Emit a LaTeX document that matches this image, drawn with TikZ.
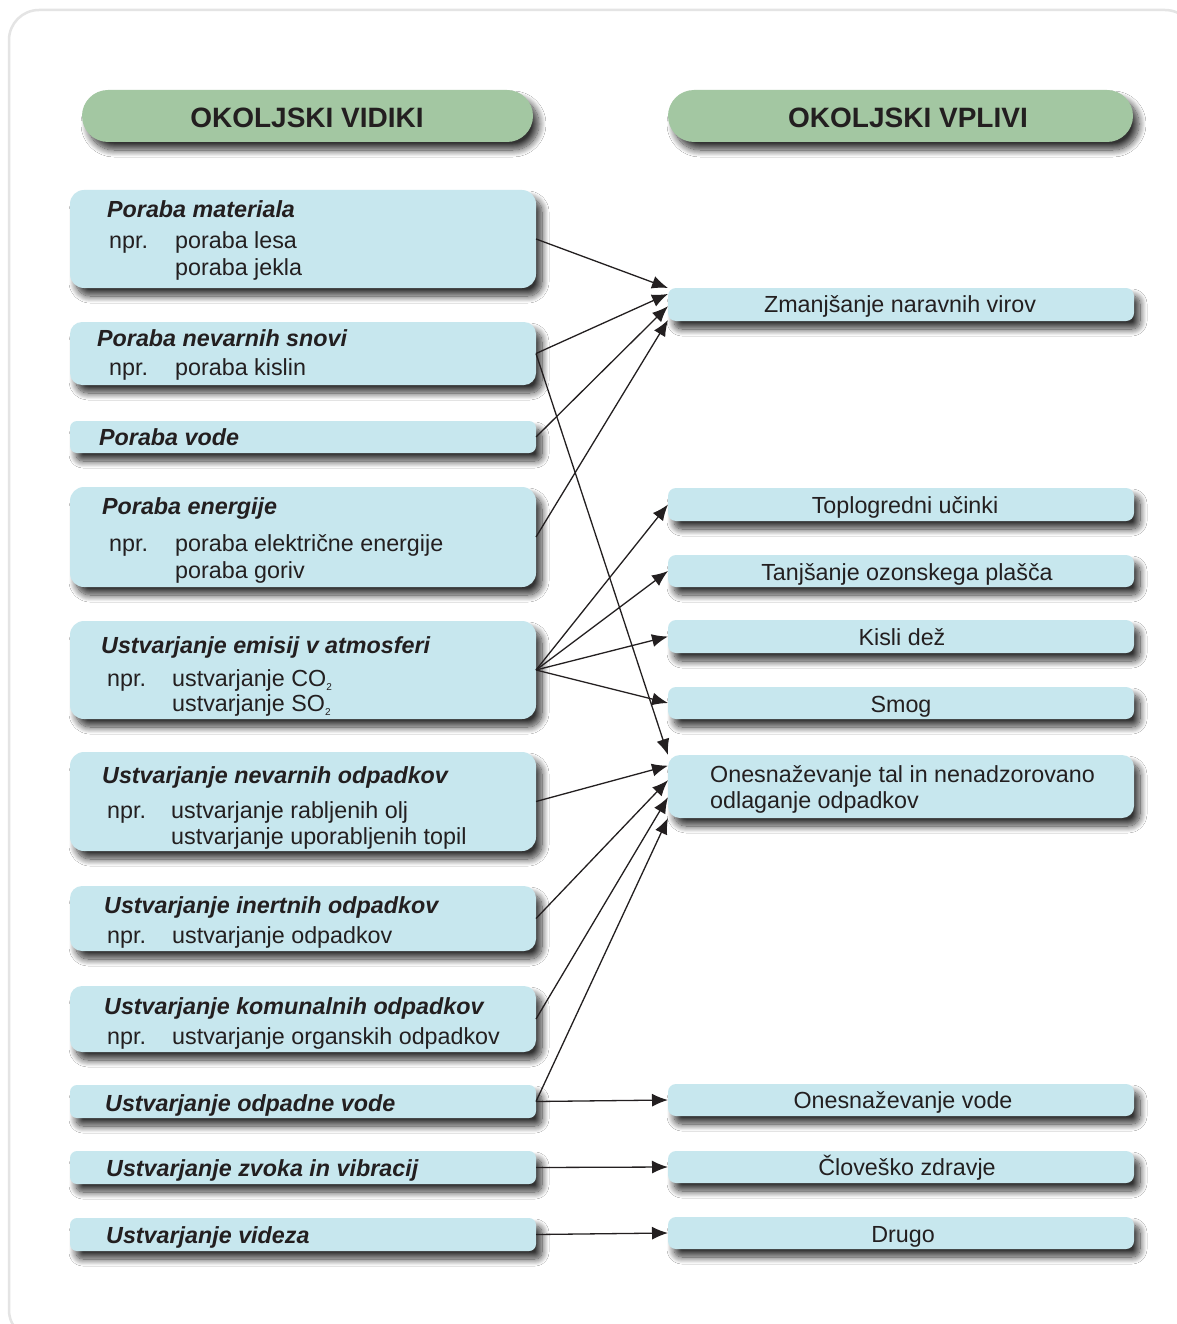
\documentclass[tikz,border=0pt]{standalone}
\usepackage{fontspec}
\setmainfont{Liberation Sans}
\usetikzlibrary{arrows.meta,calc,shadows.blur}

\definecolor{hdrgreen}{RGB}{163,199,162}
\definecolor{boxblue}{RGB}{199,231,238}
\definecolor{ink}{RGB}{35,31,32}
\definecolor{framegray}{RGB}{228,228,228}

\newcommand\subtwo{\raisebox{-0.35ex}{\fontsize{10}{10}\selectfont 2}}

\tikzset{
  softshadow/.style={blur shadow={shadow xshift=6pt, shadow yshift=-8pt,
      shadow blur radius=7pt, shadow opacity=80, shadow blur steps=14}},
  header/.style={anchor=north west, inner sep=0pt, outer sep=0pt, fill=hdrgreen,
      rounded corners=26pt, minimum height=52pt, softshadow},
  aspectbox/.style={anchor=north west, inner sep=0pt, outer sep=0pt, fill=boxblue,
      minimum width=466pt, softshadow},
  impactbox/.style={anchor=north west, inner sep=0pt, outer sep=0pt, fill=boxblue,
      minimum width=466pt, rounded corners=8pt, softshadow},
  hdrtext/.style={anchor=base, inner sep=0pt, text=ink,
      font=\fontsize{28}{32}\selectfont\bfseries},
  titletext/.style={anchor=base west, inner sep=0pt, text=ink,
      font=\fontsize{23.3}{28}\selectfont\bfseries\itshape},
  bodytext/.style={anchor=base west, inner sep=0pt, text=ink,
      font=\fontsize{23.3}{28}\selectfont},
  impacttext/.style={anchor=base, inner sep=0pt, text=ink,
      font=\fontsize{23.3}{28}\selectfont},
  arr/.style={draw=ink, line width=1.3pt, -{Latex[length=16pt,width=13pt]}}
}

\begin{document}
\begin{tikzpicture}[x=1pt,y=-1pt]
\useasboundingbox (0,0) rectangle (1176,1324);
\fill[white] (0,0) rectangle (1176,1324);

% outer frame
\draw[draw=framegray, line width=2.5pt, rounded corners=30pt] (9,10) rectangle (1195,1340);

% column headers
\node[header, minimum width=451pt] (hl) at (82,90) {};
\node[header, minimum width=465pt] (hr) at (668,90) {};

% environmental aspects (left column)
\node[aspectbox, minimum height=98pt, rounded corners=14pt] (a1) at (70,190) {};
\node[aspectbox, minimum height=63pt, rounded corners=12pt] (a2) at (70,322) {};
\node[aspectbox, minimum height=32pt, rounded corners=7pt] (a3) at (70,421) {};
\node[aspectbox, minimum height=100pt, rounded corners=14pt] (a4) at (70,487) {};
\node[aspectbox, minimum height=98pt, rounded corners=14pt] (a5) at (70,621) {};
\node[aspectbox, minimum height=99pt, rounded corners=14pt] (a6) at (70,752) {};
\node[aspectbox, minimum height=65pt, rounded corners=12pt] (a7) at (70,886) {};
\node[aspectbox, minimum height=66pt, rounded corners=12pt] (a8) at (70,986) {};
\node[aspectbox, minimum height=33pt, rounded corners=7pt] (a9) at (70,1085) {};
\node[aspectbox, minimum height=33pt, rounded corners=7pt] (a10) at (70,1151) {};
\node[aspectbox, minimum height=33pt, rounded corners=7pt] (a11) at (70,1218) {};

% environmental impacts (right column)
\node[impactbox, minimum height=33pt] (i1) at (668,288) {};
\node[impactbox, minimum height=33pt] (i2) at (668,488) {};
\node[impactbox, minimum height=32pt] (i3) at (668,555) {};
\node[impactbox, minimum height=33pt] (i4) at (668,620) {};
\node[impactbox, minimum height=32pt] (i5) at (668,687) {};
\node[impactbox, minimum height=63pt, rounded corners=12pt] (i6) at (668,755) {};
\node[impactbox, minimum height=32pt] (i7) at (668,1084) {};
\node[impactbox, minimum height=32pt] (i8) at (668,1151) {};
\node[impactbox, minimum height=32pt] (i9) at (668,1217) {};

% connectors
\draw[arr] (a1.east) -- (i1.north west);
\draw[arr] (a2.east) -- ($(i1.north west)!0.18!(i1.south west)$);
\draw[arr] (a2.east) -- (i6.north west);
\draw[arr] (a3.east) -- ($(i1.north west)!0.55!(i1.south west)$);
\draw[arr] (a4.east) -- ($(i1.north west)!0.97!(i1.south west)$);
\draw[arr] (a5.east) -- (i2.west);
\draw[arr] (a5.east) -- (i3.west);
\draw[arr] (a5.east) -- (i4.west);
\draw[arr] (a5.east) -- (i5.west);
\draw[arr] (a6.east) -- ($(i6.north west)!0.17!(i6.south west)$);
\draw[arr] (a7.east) -- ($(i6.north west)!0.40!(i6.south west)$);
\draw[arr] (a8.east) -- ($(i6.north west)!0.67!(i6.south west)$);
\draw[arr] (a9.east) -- (i6.south west);
\draw[arr] (a9.east) -- (i7.west);
\draw[arr] (a10.east) -- (i8.west);
\draw[arr] (a11.east) -- (i9.west);

% header labels
\node[hdrtext] (hlt) at (307,128) {OKOLJSKI VIDIKI};
\node[hdrtext] (hrt) at (908,128) {OKOLJSKI VPLIVI};

% aspect labels
\node[titletext] (a1t) at (107,218) {Poraba materiala};
\node[bodytext] (a1n) at (109,248) {npr.};
\node[bodytext] (a1x) at (175,248) {poraba lesa};
\node[bodytext] (a1y) at (175,276) {poraba jekla};

\node[titletext] (a2t) at (97,346) {Poraba nevarnih snovi};
\node[bodytext] (a2n) at (109,375) {npr.};
\node[bodytext] (a2x) at (175,375) {poraba kislin};

\node[titletext] (a3t) at (99,445) {Poraba vode};

\node[titletext] (a4t) at (102,514) {Poraba energije};
\node[bodytext] (a4n) at (109,551) {npr.};
\node[bodytext] (a4x) at (175,551) {poraba električne energije};
\node[bodytext] (a4y) at (175,578) {poraba goriv};

\node[titletext] (a5t) at (101,653) {Ustvarjanje emisij v atmosferi};
\node[bodytext] (a5n) at (107,686) {npr.};
\node[bodytext] (a5x) at (172,686) {ustvarjanje CO\subtwo};
\node[bodytext] (a5y) at (172,711) {ustvarjanje SO\subtwo};

\node[titletext] (a6t) at (102,783) {Ustvarjanje nevarnih odpadkov};
\node[bodytext] (a6n) at (107,818) {npr.};
\node[bodytext] (a6x) at (171,818) {ustvarjanje rabljenih olj};
\node[bodytext] (a6y) at (171,844) {ustvarjanje uporabljenih topil};

\node[titletext] (a7t) at (104,913) {Ustvarjanje inertnih odpadkov};
\node[bodytext] (a7n) at (107,943) {npr.};
\node[bodytext] (a7x) at (172,943) {ustvarjanje odpadkov};

\node[titletext] (a8t) at (104,1014) {Ustvarjanje komunalnih odpadkov};
\node[bodytext] (a8n) at (107,1044) {npr.};
\node[bodytext] (a8x) at (172,1044) {ustvarjanje organskih odpadkov};

\node[titletext] (a9t) at (105,1111) {Ustvarjanje odpadne vode};
\node[titletext] (a10t) at (106,1176) {Ustvarjanje zvoka in vibracij};
\node[titletext] (a11t) at (106,1243) {Ustvarjanje videza};

% impact labels
\node[impacttext] (i1t) at (900,312) {Zmanjšanje naravnih virov};
\node[impacttext] (i2t) at (905,513) {Toplogredni učinki};
\node[impacttext] (i3t) at (907,580) {Tanjšanje ozonskega plašča};
\node[impacttext] (i4t) at (902,645) {Kisli dež};
\node[impacttext] (i5t) at (901,712) {Smog};
\node[bodytext] (i6x) at (710,782) {Onesnaževanje tal in nenadzorovano};
\node[bodytext] (i6y) at (710,808) {odlaganje odpadkov};
\node[impacttext] (i7t) at (903,1108) {Onesnaževanje vode};
\node[impacttext] (i8t) at (907,1175) {Človeško zdravje};
\node[impacttext] (i9t) at (903,1242) {Drugo};
\end{tikzpicture}
\end{document}
